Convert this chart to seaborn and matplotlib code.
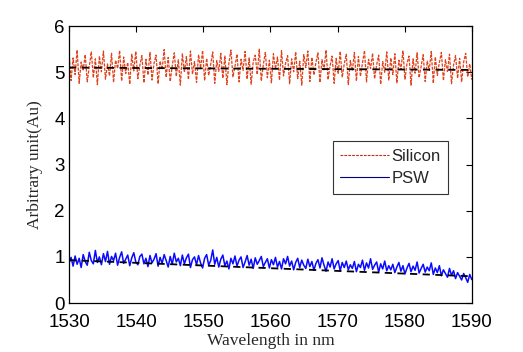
import numpy as np
import pandas as pd
import matplotlib
matplotlib.use("Agg")
import matplotlib.pyplot as plt
import seaborn as sns

# wavelength sampling (nm)
wl_start, wl_stop, n_points = 1530, 1590, 200

silicon = [
    5.42, 4.82, 5.31, 4.95, 5.48, 4.76, 5.22, 5.05, 5.38, 4.79, 5.12, 5.44, 4.88, 5.29, 4.73, 5.35, 5.01, 5.46, 4.85, 5.18,
    4.92, 5.41, 4.78, 5.26, 5.08, 5.47, 4.81, 5.33, 4.97, 5.21, 4.74, 5.39, 5.03, 5.45, 4.86, 5.15, 5.36, 4.77, 5.28, 4.94,
    5.43, 4.83, 5.19, 5.37, 4.75, 5.24, 5.06, 5.49, 4.89, 5.32, 4.80, 5.14, 5.42, 4.91, 5.27, 4.72, 5.40, 5.00, 5.34, 4.84,
    5.46, 4.96, 5.23, 4.78, 5.38, 5.09, 5.47, 4.82, 5.30, 4.93, 5.17, 5.44, 4.76, 5.25, 5.02, 5.41, 4.87, 5.35, 4.73, 5.20,
    5.48, 4.90, 5.13, 5.39, 4.79, 5.28, 5.04, 5.45, 4.85, 5.31, 4.74, 5.22, 5.37, 4.95, 5.50, 4.81, 5.16, 5.43, 4.88, 5.26,
    4.77, 5.40, 5.07, 5.33, 4.83, 5.47, 4.92, 5.19, 5.36, 4.75, 5.29, 5.01, 5.44, 4.86, 5.24, 4.72, 5.38, 5.10, 5.46, 4.80,
    5.32, 4.94, 5.21, 5.42, 4.78, 5.27, 5.05, 5.48, 4.84, 5.14, 5.35, 4.76, 5.30, 4.97, 5.45, 4.89, 5.18, 5.39, 4.73, 5.25,
    5.03, 5.43, 4.81, 5.34, 4.91, 5.20, 5.47, 4.79, 5.28, 5.08, 5.41, 4.86, 5.16, 5.37, 4.74, 5.23, 5.00, 5.44, 4.83, 5.31,
    4.95, 5.40, 4.77, 5.26, 5.06, 5.46, 4.85, 5.19, 5.35, 4.72, 5.29, 4.98, 5.42, 4.88, 5.13, 5.38, 4.80, 5.24, 5.04, 5.45,
    4.76, 5.33, 4.93, 5.21, 5.43, 4.82, 5.27, 5.02, 5.39, 4.75, 5.15, 5.36, 4.87, 5.30, 4.79, 5.22, 5.41, 4.90, 5.18, 4.84,
]

psw = [
    0.86, 0.99, 0.80, 1.02, 0.84, 0.97, 0.77, 1.05, 0.90, 0.82, 1.10, 0.92, 0.85, 1.14, 0.88, 1.00, 0.83, 1.07, 0.90, 1.12,
    0.84, 1.01, 0.92, 1.08, 0.82, 0.99, 1.11, 0.86, 0.95, 1.04, 0.81, 0.98, 1.09, 0.89, 0.83, 1.01, 1.06, 0.85, 0.97, 0.79,
    1.03, 0.87, 0.95, 1.07, 0.80, 0.99, 0.86, 1.05, 0.92, 0.78, 1.01, 0.84, 1.08, 0.89, 0.97, 0.81, 1.04, 0.85, 0.98, 1.06,
    0.77, 0.94, 1.00, 0.83, 1.03, 0.87, 0.76, 0.97, 1.05, 0.82, 0.92, 1.15, 0.84, 0.99, 0.78, 0.95, 1.04, 0.81, 0.91, 0.74,
    0.97, 0.85, 1.02, 0.80, 0.93, 1.00, 0.77, 0.89, 1.03, 0.82, 0.95, 0.75, 0.98, 0.84, 0.92, 1.01, 0.79, 0.88, 0.96, 0.76,
    0.94, 0.83, 0.99, 0.78, 0.90, 0.74, 0.96, 0.85, 1.01, 0.80, 0.91, 0.72, 0.88, 0.97, 0.77, 0.93, 0.82, 0.75, 0.95, 0.79,
    0.90, 0.71, 0.86, 0.94, 0.76, 0.98, 0.82, 0.69, 0.89, 0.78, 0.96, 0.74, 0.85, 0.92, 0.70, 0.88, 0.77, 0.91, 0.72, 0.83,
    0.75, 0.90, 0.68, 0.84, 0.77, 0.93, 0.71, 0.87, 0.76, 0.96, 0.73, 0.82, 0.89, 0.67, 0.85, 0.74, 0.91, 0.70, 0.81, 0.72,
    0.84, 0.66, 0.78, 0.88, 0.69, 0.81, 0.63, 0.76, 0.86, 0.68, 0.80, 0.71, 0.89, 0.65, 0.75, 0.84, 0.67, 0.78, 0.70, 0.87,
    0.62, 0.76, 0.66, 0.81, 0.59, 0.72, 0.64, 0.56, 0.75, 0.60, 0.70, 0.53, 0.66, 0.58, 0.50, 0.64, 0.55, 0.45, 0.62, 0.51,
]

# black dashed fit lines, value at 1530 and 1590
silicon_fit = [5.10, 5.05]
psw_fit = [0.93, 0.58]

x_ticks = [1530, 1540, 1550, 1560, 1570, 1580, 1590]
y_ticks = [0, 1, 2, 3, 4, 5, 6]


def main():
    sns.set_style("white")
    plt.rcParams['font.family'] = ['Liberation Sans', 'DejaVu Sans']
    plt.rcParams['path.simplify'] = False

    wl = np.linspace(wl_start, wl_stop, n_points)
    df = pd.DataFrame({'wl': wl, 'Silicon': silicon, 'PSW': psw})
    fits = pd.DataFrame({'wl': [wl_start, wl_stop], 'si': silicon_fit, 'psw': psw_fit})

    fig = plt.figure(figsize=(5.23, 3.52), dpi=100)
    ax = fig.add_axes([0.132, 0.139, 0.770, 0.787])

    sns.lineplot(data=df, x='wl', y='Silicon', ax=ax, color='#e0401a', lw=0.9,
                 label='Silicon', sort=False, estimator=None)
    sns.lineplot(data=df, x='wl', y='PSW', ax=ax, color='#0a0aff', lw=1.1,
                 label='PSW', sort=False, estimator=None)
    ax.lines[0].set_dashes([2.5, 1.0])
    sns.lineplot(data=fits, x='wl', y='si', ax=ax, color='black', lw=1.3, legend=False)
    sns.lineplot(data=fits, x='wl', y='psw', ax=ax, color='black', lw=1.3, legend=False)
    ax.lines[2].set_dashes([4, 3])
    ax.lines[3].set_dashes([4, 3])

    ax.set_xlim(wl_start, wl_stop)
    ax.set_ylim(0, 6)
    ax.set_xticks(x_ticks)
    ax.set_yticks(y_ticks)
    ax.tick_params(direction='in', top=True, right=True, length=4, width=0.8,
                   labelsize=13.5, colors='black')
    ax.tick_params(axis='x', pad=8)
    ax.tick_params(axis='y', pad=3)
    for s in ax.spines.values():
        s.set_color('black')
        s.set_linewidth(0.9)

    ax.set_xlabel('Wavelength in nm', family=['Liberation Serif'], fontsize=12.5, labelpad=1)
    ax.set_ylabel('Arbitrary unit(Au)', family=['Liberation Serif'], fontsize=12.5, labelpad=8)

    leg = ax.legend(loc='upper left', bbox_to_anchor=(0.655, 0.585), fontsize=12,
                    frameon=True, fancybox=False, borderpad=0.45, handlelength=2.9,
                    handletextpad=0.15, labelspacing=0.45, borderaxespad=0)
    leg.get_frame().set_edgecolor('black')
    leg.get_frame().set_linewidth(0.8)
    leg.legend_handles[0].set_color('#c03020')
    leg.legend_handles[0].set_linewidth(0.8)
    leg.legend_handles[1].set_color('#000080')
    leg.legend_handles[1].set_linewidth(0.8)

    fig.savefig('out.png', dpi=100)
    plt.close(fig)


if __name__ == "__main__":
    main()
